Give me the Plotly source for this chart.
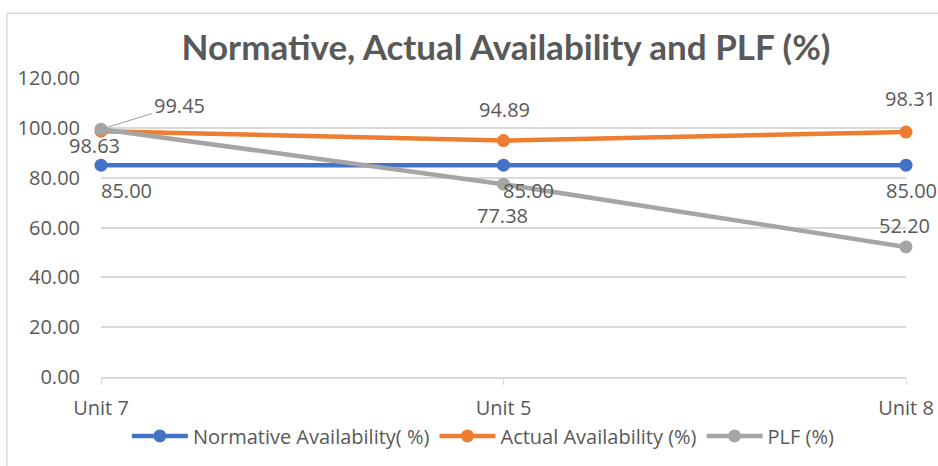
import plotly.graph_objects as go

units = ["Unit 7", "Unit 5", "Unit 8"]
normative = [85.00, 85.00, 85.00]
actual = [98.63, 94.89, 98.31]
plf = [99.45, 77.38, 52.20]
y_ticks = [0, 20, 40, 60, 80, 100, 120]

names = ["Normative Availability( %)", "Actual Availability (%)", "PLF (%)"]
colors = ["#4472C4", "#ED7D31", "#A5A5A5"]
series = [normative, actual, plf]

FONT = "Open Sans"
TXT = "#595959"
FS = 20

xs = list(range(len(units)))
fig = go.Figure()
for name, col, vals in zip(names, colors, series):
    fig.add_trace(go.Scatter(
        x=xs, y=vals, name=name, mode="lines+markers",
        line=dict(color=col, width=4.5),
        marker=dict(color=col, size=13),
        cliponaxis=False,
    ))

# label offsets (pixels): (xshift, yshift)
offsets = [
    [(25, -25), (25, -25), (5, -25)],   # normative
    [(-7, -14), (1, 31), (4, 34)],       # actual
    [None, (-1, -31), (-2, 21)],         # plf
]
anns = []
for s, vals in enumerate(series):
    for i, v in enumerate(vals):
        off = offsets[s][i]
        if off is None:
            anns.append(dict(x=xs[i], y=v, text=f"{v:.2f}", showarrow=True,
                             arrowhead=0, arrowwidth=1.2, arrowcolor="#A5A5A5",
                             ax=78, ay=-24, xanchor="center",
                             font=dict(family=FONT, size=FS, color=TXT)))
        else:
            anns.append(dict(x=xs[i], y=v, text=f"{v:.2f}", showarrow=False,
                             xshift=off[0], yshift=off[1],
                             font=dict(family=FONT, size=FS, color=TXT)))

fig.update_layout(
    width=938, height=466,
    margin=dict(l=101, r=32, t=78, b=88),
    paper_bgcolor="white", plot_bgcolor="white",
    title=dict(text="<b>Normative, Actual Availability and PLF (%)</b>",
               x=506 / 938, xanchor="center", y=0.897, yanchor="middle",
               font=dict(family="Lato", size=35, color=TXT)),
    font=dict(family=FONT, size=FS, color=TXT),
    showlegend=True,
    legend=dict(orientation="h", x=0.475, xanchor="center", y=-0.193, yanchor="middle",
                font=dict(family=FONT, size=FS, color=TXT), itemwidth=56,
                traceorder="normal"),
    annotations=anns,
)
fig.update_xaxes(range=[0, 2], tickmode="array", tickvals=xs, ticktext=units,
                 showgrid=False, showline=True, linecolor="#D9D9D9", linewidth=1.5,
                 ticks="outside", ticklen=6, tickcolor="#D9D9D9", automargin=False,
                 ticklabelstandoff=6,
                 tickfont=dict(family=FONT, size=FS, color=TXT), zeroline=False)
fig.update_yaxes(range=[0, 120], tickvals=y_ticks, tickformat=".2f",
                 showgrid=True, gridcolor="#D9D9D9", gridwidth=1.5, automargin=False,
                 zeroline=False, showline=False, ticks="", ticklabelstandoff=20,
                 tickfont=dict(family=FONT, size=FS, color=TXT))

# chart border (left and top edges visible)
fig.add_shape(type="line", xref="paper", yref="paper",
              x0=-94/804, x1=1.1, y0=365/300, y1=365/300,
              line=dict(color="#D9D9D9", width=1.5))
fig.add_shape(type="line", xref="paper", yref="paper",
              x0=-94/804, x1=-94/804, y0=365/300, y1=-0.4,
              line=dict(color="#D9D9D9", width=1.5))

fig.write_html("out.html", config={"displayModeBar": False},
               post_script="document.body.style.margin='0';")
